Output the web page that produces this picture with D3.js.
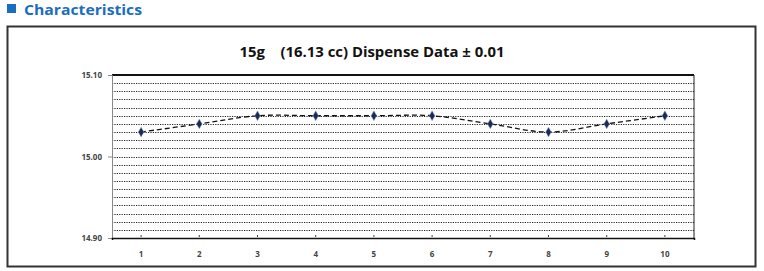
<!DOCTYPE html>
<html><head><meta charset="utf-8">
<script src="https://cdn.jsdelivr.net/npm/d3@7"></script>
<style>body{margin:0;background:#fff;}svg{display:block;}</style>
</head><body>
<svg id="c" width="764" height="271"></svg>
<script>
const categories = ["1","2","3","4","5","6","7","8","9","10"];
const values = [15.03, 15.04, 15.05, 15.05, 15.05, 15.05, 15.04, 15.03, 15.04, 15.05];
const yTickLabels = ["14.90","15.00","15.10"];
const gridValues = d3.range(0, 21).map(i => +(14.90 + i*0.01).toFixed(2));
const titleText = "15g    (16.13 cc) Dispense Data ± 0.01";
const headerText = "Characteristics";

const svg = d3.select("#c");
// header
svg.append("rect").attr("x",7).attr("y",4).attr("width",9).attr("height",9).attr("fill","#1a6ec0");
svg.append("text").attr("x",24).attr("y",15).text(headerText)
  .attr("font-family","'Open Sans'").attr("font-weight","bold").attr("font-size",14.5)
  .attr("fill","#1a6ec0").attr("textLength",118).attr("lengthAdjust","spacingAndGlyphs");
// outer box
svg.append("rect").attr("x",7.5).attr("y",26.5).attr("width",748).attr("height",240)
  .attr("fill","none").attr("stroke","#333").attr("stroke-width",2);

const L=112, R=694, T=75, B=238;
const x = d3.scaleBand().domain(categories).range([L,R]);
const y = d3.scaleLinear().domain([14.90,15.10]).range([B,T]);

// title
svg.append("text").attr("x",372).attr("y",57).attr("text-anchor","middle")
  .attr("font-family","'Open Sans'").attr("font-weight","bold").attr("font-size",14)
  .attr("fill","#111").attr("xml:space","preserve").style("white-space","pre")
  .attr("textLength",265).attr("lengthAdjust","spacingAndGlyphs").text(titleText);

// grid lines
svg.append("g").selectAll("line").data(gridValues.filter(v=>v>14.9&&v<15.1)).join("line")
  .attr("x1",L).attr("x2",R).attr("y1",d=>Math.round(y(d))+0.5).attr("y2",d=>Math.round(y(d))+0.5)
  .attr("stroke","#222").attr("stroke-width",1).attr("stroke-dasharray","1.2,1.2");
// top & right border
svg.append("line").attr("x1",L).attr("x2",R).attr("y1",T).attr("y2",T).attr("stroke","#111").attr("stroke-width",2);
svg.append("line").attr("x1",R).attr("x2",R).attr("y1",T).attr("y2",B).attr("stroke","#222").attr("stroke-width",1);

// y axis
const yAxis = d3.axisLeft(y).tickValues(yTickLabels.map(Number)).tickFormat(d3.format(".2f")).tickSize(4).tickPadding(6);
const gy = svg.append("g").attr("transform",`translate(${L},0)`).call(yAxis);
gy.select(".domain").attr("stroke","#888");
gy.selectAll(".tick line").attr("stroke","#888");
gy.selectAll("text").attr("font-family","'Open Sans'").attr("font-size",8).attr("font-weight","bold").attr("fill","#444");

// x axis
const xAxis = d3.axisBottom(x).tickSize(2).tickPadding(11);
const gx = svg.append("g").attr("transform",`translate(0,${B})`).call(xAxis);
gx.select(".domain").attr("stroke","#111").attr("stroke-width",1.5);
gx.selectAll(".tick line").attr("stroke","#444").attr("transform","translate(0,-3)");
gx.selectAll("text").attr("font-family","'Open Sans'").attr("font-size",8).attr("font-weight","bold").attr("fill","#444");

// line
const line = d3.line().x((d,i)=>x(categories[i])+x.bandwidth()/2).y(d=>y(d)).curve(d3.curveCatmullRom.alpha(0.5));
svg.append("path").datum(values).attr("d",line).attr("fill","none")
  .attr("stroke","#111").attr("stroke-width",1.3).attr("stroke-dasharray","5,3");
// markers
svg.append("g").selectAll("path").data(values).join("path")
  .attr("d",d3.symbol(d3.symbolDiamond,28))
  .attr("transform",(d,i)=>`translate(${x(categories[i])+x.bandwidth()/2},${y(d)})`)
  .attr("fill","#1c2a55").attr("stroke","#9fb3d4").attr("stroke-width",0.5);
</script>
</body></html>
